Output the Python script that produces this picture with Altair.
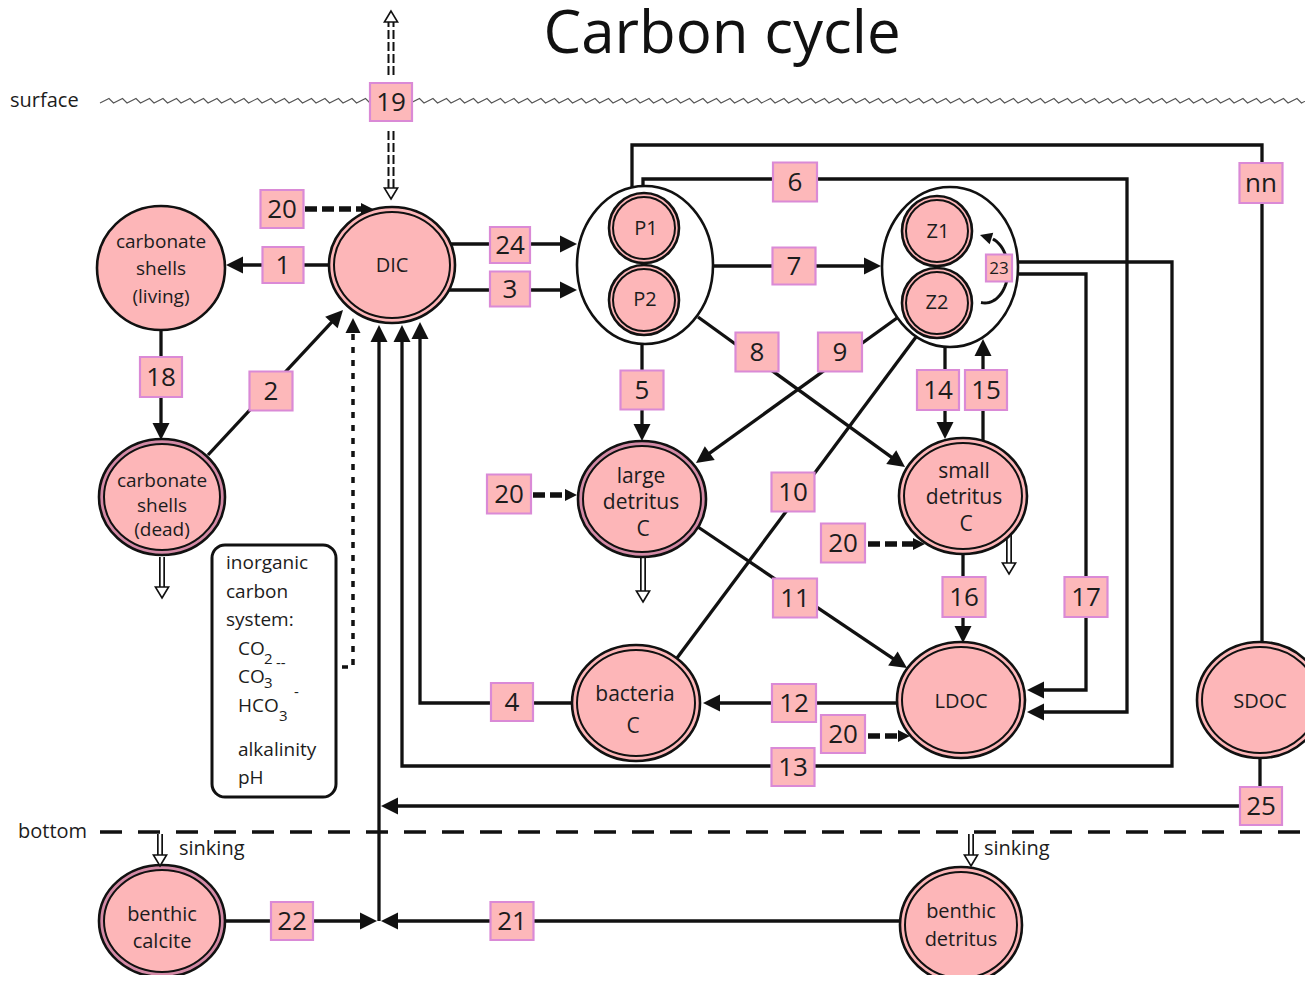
import math
import altair as alt
import numpy as np
import pandas as pd

# ---------------- colours / fonts ----------------
PINK = "#FDB6B8"
RING_MAUVE = "#D48AA6"
BOX_FILL = "#FDB8BA"
BOX_STROKE = "#DA8AD6"
INK = "#1c1c1c"
FONT = "Open Sans"

W, H = 1297, 967
xs = alt.Scale(domain=[8, 8 + W], nice=False, zero=False)
ys = alt.Scale(domain=[8, 8 + H], nice=False, zero=False, reverse=True)


def X(f="x"):
    return alt.X(f"{f}:Q", scale=xs, axis=None)


def Y(f="y"):
    return alt.Y(f"{f}:Q", scale=ys, axis=None)


# ---------------- data ----------------
title_text = "Carbon cycle"

# compartments (ellipses)
node_ids = ["carb_living", "DIC", "carb_dead", "P_group", "P1", "P2", "Z_group", "Z1", "Z2",
            "large_det", "small_det", "bacteria", "LDOC", "SDOC", "benthic_calcite", "benthic_det"]
node_cx = [161, 392, 162, 645, 644, 644, 950, 937, 937, 642, 963, 636, 961, 1260, 162, 961]
node_cy = [268, 265, 497, 265, 228, 300, 267, 231, 303, 499, 496, 703, 700, 700, 921, 925]
node_rx = [64, 63, 63, 68, 35, 35, 68, 35, 35, 64, 64, 64, 64, 63, 63, 61]
node_ry = [62, 58, 58, 79, 35, 35, 80, 35, 35, 58, 58, 58, 58, 58, 56, 58]
node_style = ["single", "double", "mauve", "group", "double", "double", "group", "double", "double",
              "mauve", "double", "double", "double", "double", "mauve", "double"]

# labels inside compartments
node_text = ["carbonate", "shells", "(living)", "DIC", "carbonate", "shells", "(dead)",
             "P1", "P2", "Z1", "Z2", "large", "detritus", "C", "small", "detritus", "C",
             "bacteria", "C", "LDOC", "SDOC", "benthic", "calcite", "benthic", "detritus"]
node_text_x = [161, 161, 161, 392, 162, 162, 162, 646, 645, 938, 937, 641, 641, 643, 964, 964, 966,
               635, 633, 961, 1260, 162, 162, 961, 961]
node_text_y = [242, 269, 297, 266, 481, 506, 530, 229, 300, 232, 303, 477, 503, 530, 472, 498, 525,
               695, 727, 702, 702, 915, 942, 912, 940]
node_text_size = [19, 19, 19, 20, 19, 19, 19, 20, 20, 20, 20, 21, 21, 21, 21, 21, 21,
                  21, 21, 20, 20, 20, 20, 20, 20]

# numbered flux boxes
box_labels = ["19", "20", "1", "24", "3", "6", "nn", "7", "8", "9", "5", "14", "15", "18", "2",
              "20", "10", "20", "11", "16", "17", "4", "12", "20", "13", "25", "22", "21", "23"]
box_cx = [391, 282, 283, 510, 510, 795, 1261, 794, 757, 840, 642, 938, 986, 161, 271,
          509, 793, 843, 795, 964, 1086, 512, 794, 843, 793, 1261, 292, 512, 999]
box_cy = [102, 209, 265, 245, 289, 182, 183, 266, 352, 352, 390, 390, 390, 377, 391,
          494, 492, 543, 598, 597, 597, 702, 703, 734, 767, 806, 921, 921, 268]
box_w = [42, 43, 41, 40, 40, 44, 43, 43, 43, 44, 43, 42, 42, 42, 43,
         44, 43, 44, 44, 43, 43, 42, 44, 44, 43, 42, 42, 43, 26]
box_h = [38, 38, 36, 36, 35, 39, 40, 37, 39, 39, 39, 40, 40, 40, 39,
         39, 39, 39, 39, 40, 40, 38, 38, 38, 38, 38, 38, 38, 27]
box_font = [26] * 28 + [17]

# solid flux paths (polylines); last point is arrow tip when head is True
path_ids = ["1", "24", "3", "nn", "6", "7", "8", "9", "10", "5", "14", "15", "16", "17", "13",
            "11", "12", "4", "2", "18", "25", "up", "22", "21"]
path_x = [[329, 226], [450, 577], [449, 577], [632, 632, 1262, 1262], [643, 643, 1127, 1127, 1027],
          [714, 881], [698, 905], [897, 696], [916, 677], [642, 642], [945, 945], [983, 983],
          [963, 963], [1019, 1086, 1086, 1027], [1019, 1172, 1172, 402, 402], [698, 907],
          [898, 703], [573, 420, 420], [208, 343], [161, 161], [1260, 1260, 381], [379, 379],
          [225, 377], [900, 381]]
path_y = [[265, 265], [244, 244], [290, 290], [187, 145, 145, 642], [185, 179, 179, 712, 712],
          [266, 266], [317, 467], [318, 463], [337, 658], [343, 441], [347, 439], [440, 339],
          [553, 643], [274, 274, 690, 690], [262, 262, 766, 766, 325], [527, 668],
          [703, 703], [703, 703, 322], [455, 310], [331, 440], [757, 806, 806], [921, 325],
          [921, 921], [921, 921]]
path_head = [True, True, True, False, True, True, True, True, False, True, True, True, True, True,
             True, True, True, True, True, True, True, True, True, True]

# dashed "20" input arrows (start x, tip x, y)
dash20_x0 = [305, 533, 868, 868]
dash20_tip = [373, 577, 925, 910]
dash20_y = [209, 495, 544, 736]

# dotted link from inorganic carbon system to DIC
dotted_x = [342, 353, 353]
dotted_y = [667, 667, 318]

# hollow sinking arrows (x, start y, tip y)
sink_x = [162, 643, 1009, 160, 971]
sink_y0 = [557, 557, 535, 834, 834]
sink_tip = [598, 602, 574, 866, 866]

# air-sea exchange (hollow dashed) arrows (x, start y, tip y)
gas_x = [391, 391]
gas_y0 = [75, 131]
gas_tip = [11, 199]

# inorganic carbon system box
inorg_lines = ["inorganic", "carbon", "system:", "CO", "CO", "HCO", "alkalinity", "pH"]
inorg_x = [226, 226, 226, 238, 238, 238, 238, 238]
inorg_y = [563, 592, 620, 649, 677, 706, 750, 778]
inorg_sub = ["2", "--", "3", "3", "-"]
inorg_sub_x = [264, 276, 264, 279, 294]
inorg_sub_y = [659, 663, 683, 716, 692]

side_labels = ["surface", "bottom", "sinking", "sinking"]
side_x = [10, 18, 179, 984]
side_y = [101, 832, 849, 849]

# ---------------- build tables ----------------
ARROW = "M0,0 L-0.5,1 L0.5,1 Z"
OPEN_ARROW = "M0,0 L-0.6,1 L0.6,1 Z"


def ell_path(k):
    c = 0.5523
    return (f"M1,0 C1,{c*k:.4f} {c:.4f},{k:.4f} 0,{k:.4f} C{-c:.4f},{k:.4f} -1,{c*k:.4f} -1,0 "
            f"C-1,{-c*k:.4f} {-c:.4f},{-k:.4f} 0,{-k:.4f} C{c:.4f},{-k:.4f} 1,{-c*k:.4f} 1,0 Z")


def heading(x0, y0, x1, y1):
    return math.degrees(math.atan2(x1 - x0, -(y1 - y0))) % 360


outer, inner = [], []
for cx, cy, rx, ry, st in zip(node_cx, node_cy, node_rx, node_ry, node_style):
    if st == "group":
        fill = "white"
    elif st == "mauve":
        fill = RING_MAUVE
    else:
        fill = PINK
    outer.append(dict(x=cx, y=cy, size=(2 * rx) ** 2, shape=ell_path(ry / rx), fill=fill, sw=2.6))
    if st in ("double", "mauve"):
        d = 4 if rx < 40 else 5
        inner.append(dict(x=cx, y=cy, size=(2 * (rx - d)) ** 2, shape=ell_path((ry - d) / (rx - d)),
                          fill=PINK, sw=2.0))
df_outer = pd.DataFrame(outer)
df_inner = pd.DataFrame(inner)

line_rows, head_rows = [], []
for pid, px, py, hd in zip(path_ids, path_x, path_y, path_head):
    px, py = list(px), list(py)
    if hd:
        tx, ty = px[-1], py[-1]
        dx, dy = tx - px[-2], ty - py[-2]
        L = math.hypot(dx, dy)
        head_rows.append(dict(x=tx, y=ty, angle=heading(px[-2], py[-2], tx, ty), size=34 ** 2))
        px[-1] = tx - dx / L * 10
        py[-1] = ty - dy / L * 10
    for k, (a, b) in enumerate(zip(px, py)):
        line_rows.append(dict(pid=pid, k=k, x=a, y=b))
df_lines = pd.DataFrame(line_rows)

dash_rows = []
for x0, tx, y in zip(dash20_x0, dash20_tip, dash20_y):
    dash_rows.append(dict(x=x0, x2=tx - 9, y=y, y2=y))
    head_rows.append(dict(x=tx, y=y, angle=90, size=24 ** 2))
df_dash = pd.DataFrame(dash_rows)

dot_rows = [dict(k=i, x=a, y=b) for i, (a, b) in enumerate(zip(dotted_x, dotted_y))]
dot_rows[-1]["y"] = dotted_y[-1] + 10
df_dot = pd.DataFrame(dot_rows)
head_rows.append(dict(x=dotted_x[-1], y=dotted_y[-1], angle=0, size=30 ** 2))

# curved self-flux arrow (23) inside the zooplankton group
arc_t = np.radians(np.linspace(100, -70, 35))
df_arc = pd.DataFrame(dict(k=np.arange(len(arc_t)), x=985 + 23 * np.cos(arc_t), y=270 + 33 * np.sin(arc_t)))
head_rows.append(dict(x=980, y=235, angle=heading(993, 239, 980, 235), size=24 ** 2))
df_heads = pd.DataFrame(head_rows)

sink_rows, open_rows = [], []
for x, y0, tip in zip(sink_x, sink_y0, sink_tip):
    sink_rows.append(dict(x=x, y=y0, x2=x, y2=tip - 10))
    open_rows.append(dict(x=x, y=tip, angle=180))
df_sink = pd.DataFrame(sink_rows)

gas_rows = []
for x, y0, tip in zip(gas_x, gas_y0, gas_tip):
    sgn = 1 if tip > y0 else -1
    gas_rows.append(dict(x=x, y=y0, x2=x, y2=tip - sgn * 10))
    open_rows.append(dict(x=x, y=tip, angle=180 if sgn > 0 else 0))
df_gas = pd.DataFrame(gas_rows)
df_open = pd.DataFrame(open_rows)

# surface wave (decorative)
wx = np.arange(100, 1306, 13.5)
wave_x, wave_y = [], []
for a in wx:
    wave_x += [a, a + 9]
    wave_y += [103, 98.5]
df_wave = pd.DataFrame(dict(k=np.arange(len(wave_x)), x=wave_x, y=wave_y))

df_bottom = pd.DataFrame([dict(x=100, x2=1305, y=832, y2=832)])
df_inorg_box = pd.DataFrame([dict(x=212, x2=336, y=545, y2=797)])

df_boxes = pd.DataFrame(dict(label=box_labels, cx=box_cx, cy=box_cy, fs=box_font,
                             x=[c - w / 2 for c, w in zip(box_cx, box_w)],
                             x2=[c + w / 2 for c, w in zip(box_cx, box_w)],
                             y=[c - h / 2 for c, h in zip(box_cy, box_h)],
                             y2=[c + h / 2 for c, h in zip(box_cy, box_h)]))

df_ntext = pd.DataFrame(dict(t=node_text, x=node_text_x, y=node_text_y, fs=node_text_size))
df_left = pd.DataFrame(dict(t=inorg_lines + side_labels,
                            x=inorg_x + side_x, y=inorg_y + side_y,
                            fs=[19] * len(inorg_lines) + [20] * len(side_labels)))
df_sub = pd.DataFrame(dict(t=inorg_sub, x=inorg_sub_x, y=inorg_sub_y, fs=[15] * len(inorg_sub)))
df_title = pd.DataFrame([dict(t=title_text, x=722, y=35)])

# ---------------- layers ----------------
wave = alt.Chart(df_wave).mark_line(color="#555", strokeWidth=1.1).encode(
    x=X(), y=Y(), order="k:Q")
bottom = alt.Chart(df_bottom).mark_rule(color="#111", strokeWidth=3.5, strokeDash=[22, 16]).encode(
    x=X(), x2="x2:Q", y=Y(), y2="y2:Q")
lines = alt.Chart(df_lines).mark_line(color="#111", strokeWidth=3.3, strokeJoin="miter",
                                      strokeCap="butt").encode(
    x=X(), y=Y(), detail="pid:N", order="k:Q")
dotted = alt.Chart(df_dot).mark_line(color="#111", strokeWidth=3.5, strokeDash=[6, 7]).encode(
    x=X(), y=Y(), order="k:Q")
dash20 = alt.Chart(df_dash).mark_rule(color="#111", strokeWidth=5.5, strokeDash=[12, 5]).encode(
    x=X(), x2="x2:Q", y=Y(), y2="y2:Q")
sink_b = alt.Chart(df_sink).mark_rule(color="#111", strokeWidth=6).encode(
    x=X(), x2="x2:Q", y=Y(), y2="y2:Q")
sink_w = alt.Chart(df_sink).mark_rule(color="white", strokeWidth=2.6).encode(
    x=X(), x2="x2:Q", y=Y(), y2="y2:Q")
gas_b = alt.Chart(df_gas).mark_rule(color="#111", strokeWidth=7, strokeDash=[9, 3]).encode(
    x=X(), x2="x2:Q", y=Y(), y2="y2:Q")
gas_w = alt.Chart(df_gas).mark_rule(color="white", strokeWidth=3, strokeDash=[9, 3]).encode(
    x=X(), x2="x2:Q", y=Y(), y2="y2:Q")

ell_outer = alt.Chart(df_outer).mark_point(filled=True, opacity=1, stroke="#111").encode(
    x=X(), y=Y(), shape=alt.Shape("shape:N", scale=None), size=alt.Size("size:Q", scale=None),
    fill=alt.Fill("fill:N", scale=None), strokeWidth=alt.StrokeWidth("sw:Q", scale=None))
ell_inner = alt.Chart(df_inner).mark_point(filled=True, opacity=1, stroke="#111").encode(
    x=X(), y=Y(), shape=alt.Shape("shape:N", scale=None), size=alt.Size("size:Q", scale=None),
    fill=alt.Fill("fill:N", scale=None), strokeWidth=alt.StrokeWidth("sw:Q", scale=None))

arc = alt.Chart(df_arc).mark_line(color="#111", strokeWidth=3).encode(x=X(), y=Y(), order="k:Q")

inorg_box = alt.Chart(df_inorg_box).mark_rect(fill="white", stroke="#111", strokeWidth=3,
                                              cornerRadius=13).encode(
    x=X(), x2="x2:Q", y=Y(), y2="y2:Q")

boxes = alt.Chart(df_boxes).mark_rect(fill=BOX_FILL, stroke=BOX_STROKE, strokeWidth=2.2).encode(
    x=X(), x2="x2:Q", y=Y(), y2="y2:Q")
box_txt = alt.Chart(df_boxes).mark_text(font=FONT, color=INK, baseline="middle", align="center",
                                        dy=1).encode(
    x=X("cx"), y=Y("cy"), text="label:N", size=alt.Size("fs:Q", scale=None))

heads = alt.Chart(df_heads).mark_point(filled=True, opacity=1, fill="#111", strokeWidth=0,
                                       shape=ARROW).encode(
    x=X(), y=Y(), angle=alt.Angle("angle:Q", scale=None), size=alt.Size("size:Q", scale=None))
open_heads = alt.Chart(df_open).mark_point(filled=True, opacity=1, fill="white", stroke="#111",
                                           strokeWidth=1.6, shape=OPEN_ARROW, size=22 ** 2).encode(
    x=X(), y=Y(), angle=alt.Angle("angle:Q", scale=None))

ntext = alt.Chart(df_ntext).mark_text(font=FONT, color=INK, baseline="middle", align="center").encode(
    x=X(), y=Y(), text="t:N", size=alt.Size("fs:Q", scale=None))
ltext = alt.Chart(df_left).mark_text(font=FONT, color=INK, baseline="middle", align="left").encode(
    x=X(), y=Y(), text="t:N", size=alt.Size("fs:Q", scale=None))
subtext = alt.Chart(df_sub).mark_text(font=FONT, color=INK, baseline="middle", align="left").encode(
    x=X(), y=Y(), text="t:N", size=alt.Size("fs:Q", scale=None))
title = alt.Chart(df_title).mark_text(font=FONT, color="#111", baseline="middle", align="center",
                                      fontSize=60).encode(x=X(), y=Y(), text="t:N")

chart = alt.layer(
    wave, bottom, lines, dotted, dash20, sink_b, sink_w, gas_b, gas_w,
    ell_outer, ell_inner, arc, inorg_box, boxes, box_txt, heads, open_heads,
    ntext, ltext, subtext, title
).properties(
    width=W, height=H, padding=0,
    autosize=alt.AutoSizeParams(type="none"),
    background="white",
).configure_view(stroke=None)

chart.save("out.html", embed_options={"renderer": "svg", "actions": False})
